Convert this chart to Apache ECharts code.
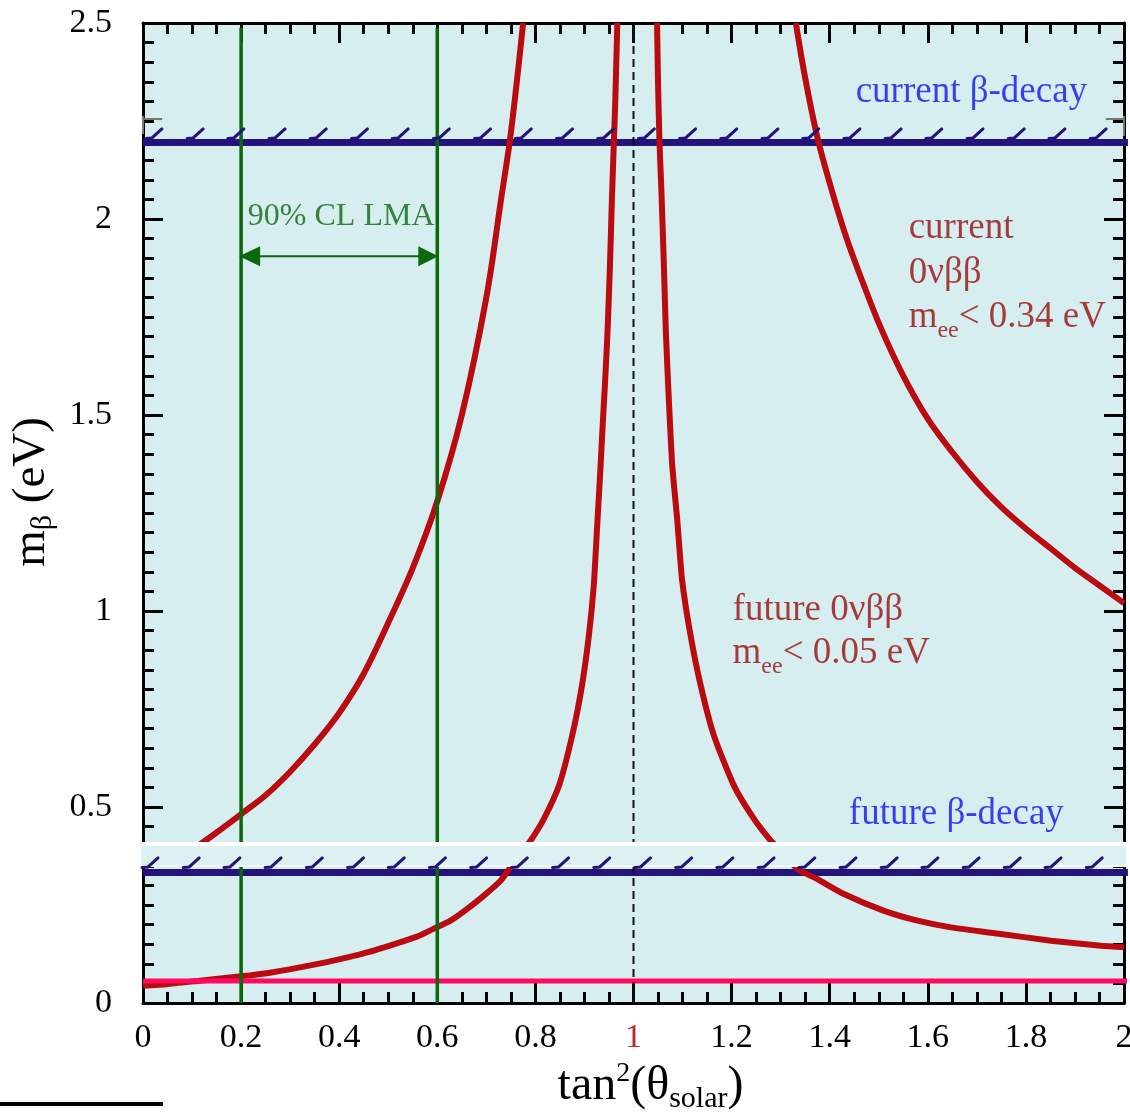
<!DOCTYPE html>
<html><head><meta charset="utf-8">
<script src="https://cdn.jsdelivr.net/npm/echarts@6/dist/echarts.min.js"></script>
<style>html,body{margin:0;padding:0;background:#fff}#c{width:1130px;height:1114px}</style>
</head><body><div id="c"></div>
<script>
// ---- data ----
const currentLeft = [[0.10,0.39],[0.15,0.435],[0.2,0.482],[0.25,0.53],[0.3,0.59],[0.35,0.66],[0.4,0.74],[0.45,0.84],[0.5,0.97],[0.55,1.11],[0.6,1.28],[0.65,1.50],[0.7,1.80],[0.73,2.05],[0.75,2.22],[0.775,2.5]];
const currentRight = [[1.331,2.5],[1.350,2.36],[1.375,2.208],[1.405,2.07],[1.436,1.945],[1.470,1.83],[1.504,1.723],[1.55,1.60],[1.6,1.49],[1.65,1.405],[1.7,1.33],[1.75,1.265],[1.8,1.21],[1.85,1.16],[1.9,1.11],[1.95,1.065],[2.0,1.02]];
const futureLeft = [[0,0.044],[0.048,0.048],[0.116,0.057],[0.2,0.068],[0.252,0.076],[0.32,0.091],[0.388,0.108],[0.457,0.129],[0.524,0.155],[0.56,0.170],[0.592,0.189],[0.627,0.210],[0.661,0.240],[0.695,0.274],[0.729,0.312],[0.749,0.346],[0.790,0.414],[0.817,0.469],[0.848,0.554],[0.875,0.682],[0.895,0.810],[0.909,0.937],[0.919,1.065],[0.926,1.218],[0.932,1.35],[0.937,1.47],[0.942,1.583],[0.947,1.711],[0.952,1.881],[0.956,2.051],[0.960,2.196],[0.963,2.306],[0.967,2.5]];
const futureRight = [[1.048,2.5],[1.050,2.349],[1.053,2.196],[1.057,2.068],[1.062,1.881],[1.066,1.711],[1.072,1.541],[1.079,1.371],[1.089,1.235],[1.099,1.08],[1.116,0.94],[1.137,0.810],[1.164,0.682],[1.205,0.554],[1.246,0.469],[1.280,0.414],[1.300,0.39],[1.334,0.342],[1.375,0.316],[1.429,0.278],[1.511,0.235],[1.579,0.210],[1.647,0.193],[1.749,0.176],[1.851,0.159],[1.953,0.146],[2.0,0.142]];
const currentBetaLimit = 2.195;
const futureBetaLimit = 0.333;
const futureBBLevel = 0.056;
const lmaRange = [0.2, 0.6];
const lmaArrowLevel = 1.905;
const maximalMixing = 1;
const futureBand = [0.347, 0.411];
const hatchTop = [0.008,0.092,0.175,0.259,0.343,0.427,0.510,0.594,0.678,0.761,0.845,0.929,1.012,1.096,1.180,1.264,1.347,1.431,1.515,1.598,1.682,1.766,1.849,1.933];
const hatchBottom = [0,0.084,0.167,0.251,0.335,0.419,0.502,0.586,0.670,0.753,0.837,0.921,1.004,1.088,1.172,1.256,1.339,1.423,1.507,1.590,1.674,1.758,1.841,1.925];
// small grey bracket remnants at the plot edges near the current beta limit
const edgeMarks = [[[0, 2.263], [0, 2.217]], [[0, 2.255], [0.039, 2.255]], [[1.963, 2.255], [2.0, 2.255]], [[2.0, 2.263], [2.0, 2.212]]];
const xRange = [0, 2], yRange = [0, 2.5];

// ---- styles ----
const SERIF = "'Liberation Serif','Times New Roman',serif";
const RED = '#b90b10', NAVY = '#23137a', PINK = '#ff0a60', GREEN = '#0b680b', BLUE = '#1010f0', DRED = '#990d0d';

const chart = echarts.init(document.getElementById('c'), null, {renderer:'canvas'});

function axisCommon(extra) {
  return Object.assign({
    type: 'value',
    axisLine: {show: true, onZero: false, lineStyle: {color: '#000', width: 3}},
    axisTick: {show: true, inside: true, length: 20, lineStyle: {color: '#000', width: 3}},
    minorTick: {show: true, length: 11, lineStyle: {color: '#000', width: 3}},
    splitLine: {show: false}, minorSplitLine: {show: false}
  }, extra);
}

const hLine = (v, color, w, z) => ({
  type: 'line', data: [[xRange[0], v], [xRange[1] + 0.008, v]], symbol: 'none', clip: false, z: z, silent: true,
  lineStyle: {color: color, width: w}
});
const vLine = (v, color, w, z, type) => ({
  type: 'line', data: [[v, yRange[0]], [v, yRange[1] - 0.012]], symbol: 'none', z: z, silent: true,
  lineStyle: {color: color, width: w, type: type || 'solid'}
});
const curve = (d, s) => ({type: 'line', data: d, symbol: 'none', smooth: s, z: 3, silent: true, lineStyle: {color: RED, width: 6}});
const hatch = (xs, level, lift) => ({
  type: 'custom', z: 8, silent: true, data: xs.map(x => [x, level]),
  renderItem: (params, api) => {
    const p = api.coord([api.value(0), api.value(1)]);
    const yb = p[1] - lift;
    return {type: 'polyline', shape: {points: [[p[0] - 1, yb + 0.5], [p[0] + 5, yb], [p[0] + 15, yb - 9]]},
      style: {stroke: NAVY, lineWidth: 3, fill: null, lineCap: 'round'}};
  }
});
const subRich = {t: {fontFamily: SERIF, fontSize: 37, color: DRED}, s: {fontFamily: SERIF, fontSize: 24, color: DRED, padding: [28, 0, 0, 0]}};

const option = {
  animation: false,
  grid: {left: 143, right: 6, top: 23, bottom: 111, show: true, backgroundColor: '#d6eef0', borderWidth: 0,
         containLabel: false, outerBoundsMode: 'none'},
  xAxis: [
    axisCommon({min: xRange[0], max: xRange[1], interval: 0.2, position: 'bottom', minorTick: {show: true, splitNumber: 4, length: 11, lineStyle: {color: '#000', width: 3}},
      axisLabel: {fontFamily: SERIF, fontSize: 34, color: '#000', margin: 18,
        formatter: v => (Math.abs(v - 1) < 1e-9 ? '{r|1}' : String(+v.toFixed(1))),
        rich: {r: {color: '#c0282d', fontFamily: SERIF, fontSize: 34}}},
      name: '{t|tan}{sup|2}{t|(θ}{sub|solar}{t|)}', nameLocation: 'middle', nameGap: 54,
      nameTextStyle: {fontFamily: SERIF, fontSize: 48, color: '#000', padding: [0, 0, 0, 34],
        rich: {t: {fontFamily: SERIF, fontSize: 48, color: '#000'},
               sup: {fontFamily: SERIF, fontSize: 28, color: '#000', padding: [0, 0, 24, 0]},
               sub: {fontFamily: SERIF, fontSize: 30, color: '#000', padding: [26, 0, 0, 0]}}}}),
    axisCommon({min: xRange[0], max: xRange[1], interval: 0.2, position: 'top', minorTick: {show: true, splitNumber: 4, length: 11, lineStyle: {color: '#000', width: 3}},
      axisLabel: {show: false}})
  ],
  yAxis: [
    axisCommon({min: yRange[0], max: yRange[1], interval: 0.5, position: 'left', minorTick: {show: true, splitNumber: 10, length: 11, lineStyle: {color: '#000', width: 3}},
      axisLabel: {fontFamily: SERIF, fontSize: 34, color: '#000', margin: 31},
      name: '{t|m}{sub|β}{t| (eV)}', nameLocation: 'middle', nameRotate: 90, nameGap: 67,
      nameTextStyle: {fontFamily: SERIF, fontSize: 47, color: '#000', padding: [0, 0, 0, 42],
        rich: {t: {fontFamily: SERIF, fontSize: 47, color: '#000'},
               sub: {fontFamily: SERIF, fontSize: 30, color: '#000', padding: [24, 0, 0, 0]}}}}),
    axisCommon({min: yRange[0], max: yRange[1], interval: 0.5, position: 'right', minorTick: {show: true, splitNumber: 10, length: 11, lineStyle: {color: '#000', width: 3}},
      axisLabel: {show: false}})
  ],
  series: [
    hLine(currentBetaLimit, NAVY, 7, 2),
    hLine(futureBetaLimit, NAVY, 7, 2),
    curve(currentLeft, 0.35), curve(currentRight, 0.35), curve(futureLeft, 0.2), curve(futureRight, 0.2),
    hLine(futureBBLevel, PINK, 5, 4),
    vLine(lmaRange[0], GREEN, 3.5, 5), vLine(lmaRange[1], GREEN, 3.5, 5),
    vLine(maximalMixing, '#111', 2, 5, [8, 5]),
    { // light strip covering the future beta-decay hatch zone
      type: 'custom', z: 7, silent: true, data: [[futureBand[0], futureBand[1]]],
      renderItem: (params, api) => {
        const cs = params.coordSys;
        const yb = api.coord([0, api.value(0)])[1], yt = api.coord([0, api.value(1)])[1];
        return {type: 'group', children: [
          {type: 'rect', shape: {x: cs.x - 2, y: yt, width: cs.width + 4, height: yb - yt}, style: {fill: '#ddf1f3'}},
          {type: 'rect', shape: {x: cs.x - 2, y: yt, width: cs.width + 4, height: 4}, style: {fill: '#ffffff'}},
          {type: 'rect', shape: {x: cs.x - 2, y: yb - 2, width: cs.width + 4, height: 2}, style: {fill: '#f2fafb'}}
        ]};
      }
    },
    hatch(hatchTop, currentBetaLimit, 4.6),
    hatch(hatchBottom, futureBetaLimit, 5.5),
    { // grey edge remnants
      type: 'custom', z: 8, silent: true, clip: false, data: edgeMarks.map(s => [s[0][0], s[0][1], s[1][0], s[1][1]]),
      renderItem: (params, api) => {
        const a = api.coord([api.value(0), api.value(1)]), b = api.coord([api.value(2), api.value(3)]);
        return {type: 'line', shape: {x1: a[0], y1: a[1], x2: b[0], y2: b[1]}, style: {stroke: '#6f7777', lineWidth: 2}};
      }
    },
    { // LMA double arrow
      type: 'custom', z: 6, silent: true, data: [[lmaRange[0], lmaRange[1], lmaArrowLevel]],
      renderItem: (params, api) => {
        const a = api.coord([api.value(0), api.value(2)]), b = api.coord([api.value(1), api.value(2)]);
        const L = 19, H = 10;
        return {type: 'group', children: [
          {type: 'line', shape: {x1: a[0] + 4, y1: a[1], x2: b[0] - 4, y2: b[1]}, style: {stroke: GREEN, lineWidth: 2.2}},
          {type: 'polygon', shape: {points: [[a[0] - 2, a[1]], [a[0] + L, a[1] - H], [a[0] + L, a[1] + H]]}, style: {fill: GREEN}},
          {type: 'polygon', shape: {points: [[b[0] + 1, b[1]], [b[0] - L, b[1] - H], [b[0] - L, b[1] + H]]}, style: {fill: GREEN}}
        ]};
      }
    },
    { // text annotations
      type: 'scatter', symbolSize: 0, z: 10, silent: true,
      label: {show: true, position: 'inside', align: 'left', verticalAlign: 'middle', fontFamily: SERIF},
      data: [
        {value: [1.453, 2.322], label: {formatter: 'current β-decay', color: BLUE, fontSize: 37}},
        {value: [1.439, 0.482], label: {formatter: 'future β-decay', color: BLUE, fontSize: 37}},
        {value: [0.404, 2.005], label: {formatter: '90% CL LMA', color: GREEN, fontSize: 32, align: 'center'}},
        {value: [1.561, 1.976], label: {formatter: 'current', color: DRED, fontSize: 37}},
        {value: [1.561, 1.862], label: {formatter: '0νββ', color: DRED, fontSize: 37}},
        {value: [1.561, 1.750], label: {formatter: '{t|m}{s|ee}{t|< 0.34 eV}', color: DRED, fontSize: 37, rich: subRich}},
        {value: [1.202, 1.003], label: {formatter: 'future 0νββ', color: DRED, fontSize: 37}},
        {value: [1.202, 0.893], label: {formatter: '{t|m}{s|ee}{t|< 0.05 eV}', color: DRED, fontSize: 37, rich: subRich}}
      ]
    }
  ],
  graphic: [
    {type: 'rect', left: 0, top: 1102, shape: {width: 163, height: 4}, style: {fill: '#000'}}
  ]
};
chart.setOption(option);
</script></body></html>
